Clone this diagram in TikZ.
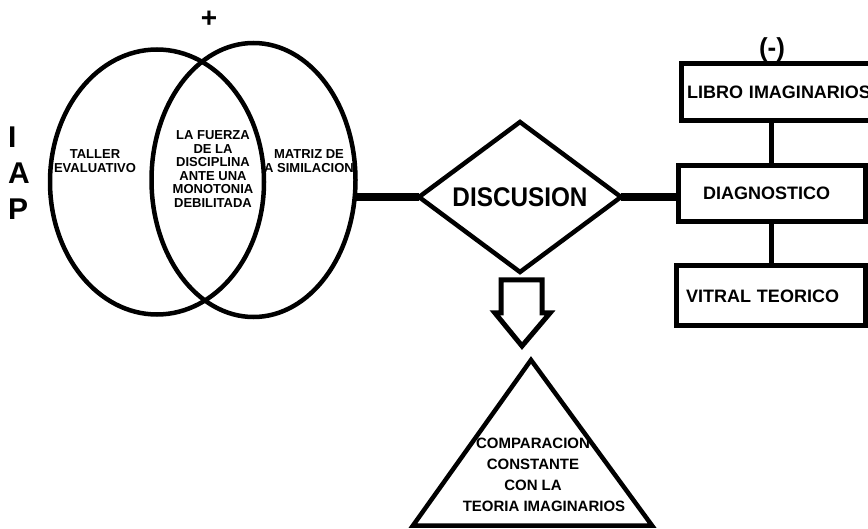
\documentclass[tikz,border=0pt]{standalone}
\usepackage{fontspec}
\usepackage{graphicx}
\setmainfont{Liberation Sans}
\usetikzlibrary{shapes.geometric}
\begin{document}
\begin{tikzpicture}[x=1pt,y=-1pt,
  venn/.style={ellipse, draw, line width=4.5pt, inner sep=0pt, outer sep=0pt},
  small/.style={font=\fontsize{13}{13.6}\selectfont\bfseries, align=center, inner sep=0pt},
  box/.style={draw, line width=5pt, inner sep=0pt, outer sep=0pt, font=\fontsize{18}{20}\selectfont\bfseries, align=left},
  thick link/.style={line width=8pt},
  thin link/.style={line width=5pt},
  blockarrow/.style={line width=5pt, line join=miter},
  tri/.style={line width=4.5pt, line join=miter}]
\useasboundingbox (0,0) rectangle (868,529);
% Venn ellipses
\node[venn, minimum width=214pt, minimum height=265pt] (L) at (157,182) {};
\node[venn, minimum width=204pt, minimum height=274pt] (R) at (253.5,180) {};
\node[small] (t1) at (95,161) {TALLER\\EVALUATIVO};
\node[small] (t2) at (213,169) {LA FUERZA\\DE LA\\DISCIPLINA\\ANTE UNA\\MONOTONIA\\DEBILITADA};
\node[small] (t3) at (309,161) {MATRIZ DE\\A SIMILACION};
\node[font=\fontsize{28}{28}\selectfont\bfseries, inner sep=0pt] (plus) at (209,19) {+};
\node[font=\fontsize{30}{36}\selectfont\bfseries, align=left, anchor=west, inner sep=0pt] (iap) at (8,173) {I\\A\\P};
% Diamond
\node[diamond, draw, line width=4.5pt, minimum width=202pt, minimum height=150pt, aspect=1.35, inner sep=0pt, outer sep=0pt] (disc) at (520,197) {\fontsize{27}{27}\selectfont\bfseries\scalebox{0.9}[1]{DISCUSION}};
\draw[thick link] (disc.west) -- (disc.west -| R.east);
% Boxes
\node[box, minimum width=204pt, text width=192pt, minimum height=57pt, anchor=north west] (libro) at (681,63.5) {LIBRO IMAGINARIOS};
\node[box, minimum width=186.5pt, text width=137.5pt, minimum height=56pt, anchor=north west] (diag) at (678.5,165.5) {DIAGNOSTICO};
\node[box, minimum width=188.5pt, text width=169.5pt, minimum height=60pt, anchor=north west] (vitral) at (676.5,266) {VITRAL TEORICO};
\node[font=\fontsize{26}{26}\selectfont\bfseries, anchor=south, inner sep=0pt] (minus) at (772,62) {(-)};
\draw[thin link] (diag.north) -- (diag.north |- libro.south);
\draw[thin link] (diag.south) -- (diag.south |- vitral.north);
\draw[thick link] (disc.east) -- (disc.east -| diag.west);
% Block arrow
\draw[blockarrow] (501,280) -- (501,313) -- (495,313) -- (522,346) -- (550,313) -- (542,313) -- (542,280) -- cycle;
% Triangle
\node[font=\fontsize{15}{21}\selectfont\bfseries, align=center, inner sep=0pt] (cmp) at (533,474.5) {COMPARACION\\CONSTANTE\\CON LA\\\hspace*{22pt}TEORIA IMAGINARIOS};
\coordinate (apex) at (531,360);
\coordinate (bl) at (413,525.5);
\coordinate (br) at (652,525.5);
\draw[tri] (apex) -- (br) -- (bl) -- cycle;
\end{tikzpicture}
\end{document}
